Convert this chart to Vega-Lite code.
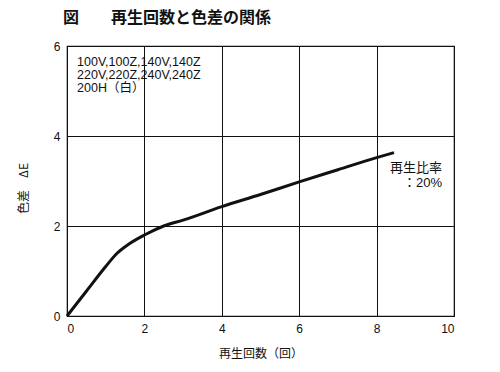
{
  "$schema": "https://vega.github.io/schema/vega-lite/v6.json",
  "width": 387,
  "height": 270,
  "autosize": "none",
  "padding": {"left": 67, "top": 46, "right": 46, "bottom": 56},
  "background": "white",
  "title": {
    "text": "図　　再生回数と色差の関係",
    "anchor": "start",
    "frame": "group",
    "font": "Noto Sans CJK JP",
    "fontSize": 16,
    "fontWeight": "bold",
    "color": "#111",
    "dx": -4,
    "offset": 14
  },
  "config": {
    "view": {"stroke": "#111", "strokeWidth": 1.2},
    "axis": {
      "labelFont": "Liberation Sans",
      "labelFontSize": 12,
      "labelColor": "#111",
      "titleFont": "Noto Sans CJK JP",
      "titleFontSize": 12,
      "titleFontWeight": "normal",
      "titleColor": "#111",
      "gridColor": "#111",
      "gridOpacity": 1,
      "gridWidth": 1,
      "domain": false,
      "ticks": false
    }
  },
  "layer": [
    {
      "data": {"values": [
        {"x": 0, "y": 0}, {"x": 0.5, "y": 0.55}, {"x": 1.0, "y": 1.1}, {"x": 1.3, "y": 1.4},
        {"x": 1.6, "y": 1.6}, {"x": 2.0, "y": 1.8}, {"x": 2.5, "y": 2.0}, {"x": 3.0, "y": 2.13},
        {"x": 4.0, "y": 2.43}, {"x": 5.0, "y": 2.7}, {"x": 6.0, "y": 2.98}, {"x": 7.0, "y": 3.25},
        {"x": 8.0, "y": 3.52}, {"x": 8.45, "y": 3.63}
      ]},
      "mark": {"type": "line", "color": "#111", "strokeWidth": 3, "interpolate": "monotone"},
      "encoding": {
        "x": {"field": "x", "type": "quantitative", "scale": {"domain": [0, 10], "nice": false},
              "axis": {"values": [0, 2, 4, 6, 8, 10], "title": "再生回数（回）", "labelPadding": 7, "titleY": 32}},
        "y": {"field": "y", "type": "quantitative", "scale": {"domain": [0, 6], "nice": false},
              "axis": {"values": [0, 2, 4, 6], "title": "色差　ΔE", "labelPadding": 7, "titleX": -37, "titleY": 142}}
      }
    },
    {
      "data": {"values": [
        {"x": 0.26, "y": 5.65, "t": "100V,100Z,140V,140Z"},
        {"x": 0.26, "y": 5.36, "t": "220V,220Z,240V,240Z"},
        {"x": 0.26, "y": 5.07, "t": "200H（白）"}
      ]},
      "mark": {"type": "text", "align": "left", "baseline": "middle", "font": "Liberation Sans, Noto Sans CJK JP", "fontSize": 12.5, "color": "#111"},
      "encoding": {
        "x": {"field": "x", "type": "quantitative"},
        "y": {"field": "y", "type": "quantitative"},
        "text": {"field": "t"}
      }
    },
    {
      "data": {"values": [
        {"x": 9.69, "y": 3.29, "t": "再生比率"},
        {"x": 9.69, "y": 2.95, "t": "：20%"}
      ]},
      "mark": {"type": "text", "align": "right", "baseline": "middle", "font": "Liberation Sans, Noto Sans CJK JP", "fontSize": 13, "color": "#111"},
      "encoding": {
        "x": {"field": "x", "type": "quantitative"},
        "y": {"field": "y", "type": "quantitative"},
        "text": {"field": "t"}
      }
    }
  ]
}
